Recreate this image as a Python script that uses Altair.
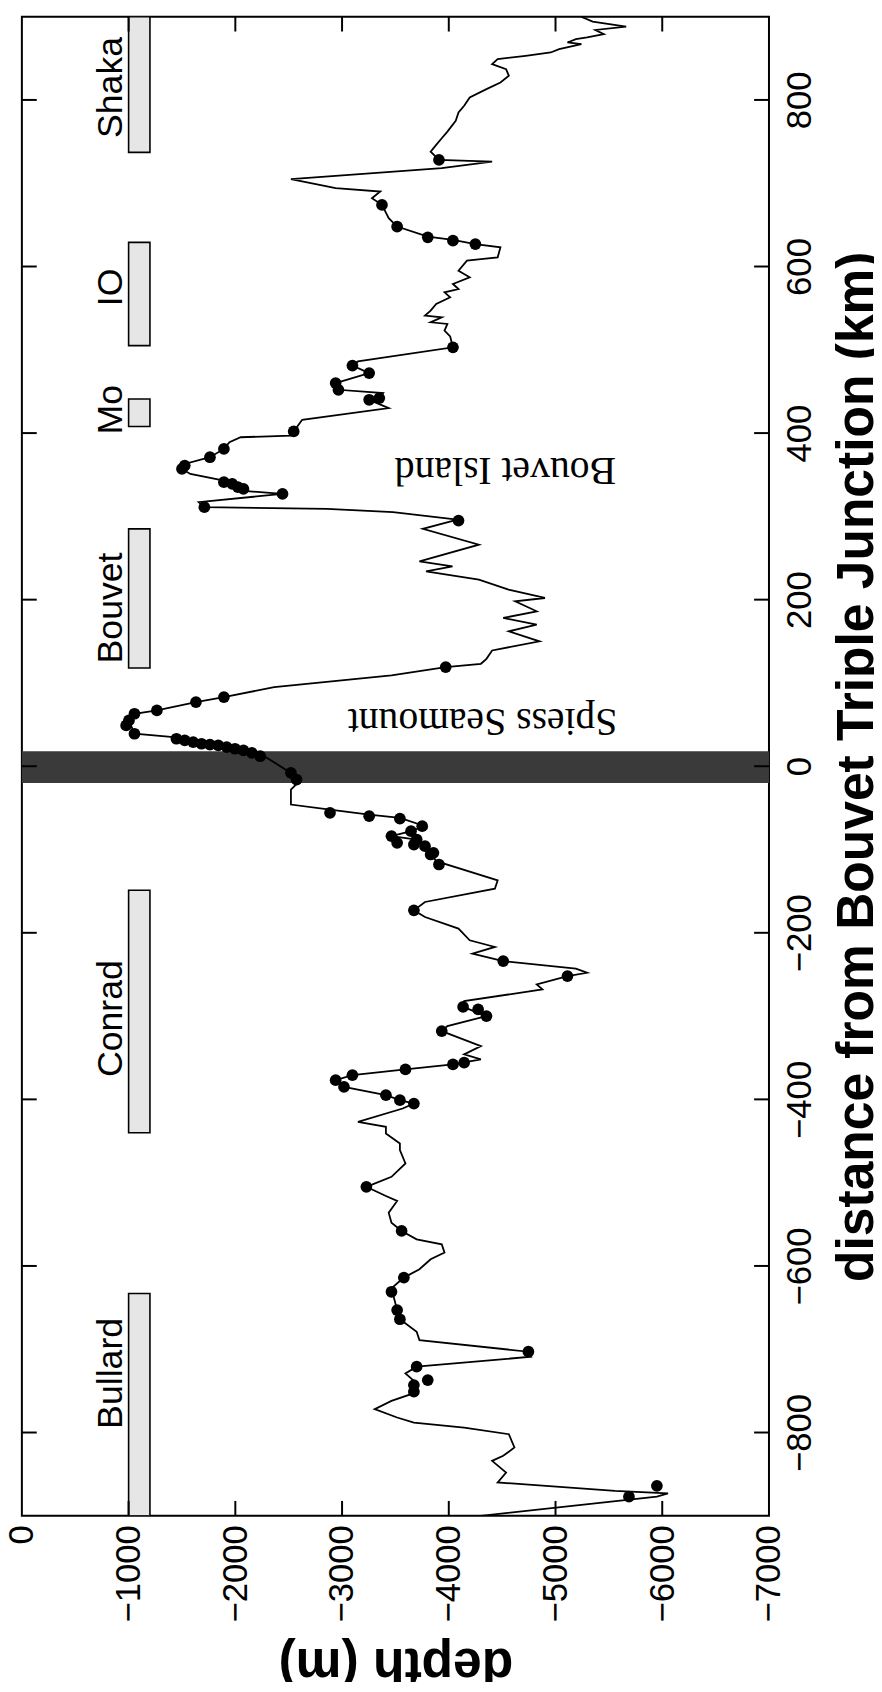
import altair as alt
import pandas as pd

# ---------------- data ----------------
# bathymetric profile, in drawing order (distance km, depth m)
line_dist = [900, 894, 888, 884, 879, 875, 873, 869, 867, 861, 857, 853, 849, 843, 837, 829, 821, 813,
             803, 793, 785, 775, 762, 754, 746, 738, 728, 726, 718, 705, 694, 690, 682, 674, 658, 648,
             636, 632, 627, 623, 611, 609, 607, 595, 587, 579, 573, 569, 563, 555, 547, 541, 539, 533,
             531, 523, 516, 503, 486, 481, 472, 460, 452, 448, 442, 440, 430, 416, 402, 397, 395, 389,
             381, 371, 363, 357, 351, 343, 339, 335, 331, 327, 317, 311, 309, 305, 296, 285, 266, 246,
             240, 234, 224, 212, 202, 198, 186, 178, 170, 162, 150, 139, 129, 123, 119, 109, 95, 83,
             77, 67, 63, 55, 47, 39, 35, 25, 13, -8, -18, -28, -46, -52, -58, -62, -72, -78, -84, -88,
             -96, -104, -114, -137, -147, -163, -173, -181, -195, -209, -217, -225, -234, -243, -248,
             -252, -262, -268, -282, -289, -300, -312, -318, -336, -346, -352, -358, -364, -371, -377,
             -385, -395, -401, -405, -411, -427, -433, -441, -453, -461, -477, -493, -505, -516, -522,
             -536, -548, -558, -568, -574, -584, -592, -604, -614, -627, -653, -664, -679, -689, -703,
             -709, -721, -729, -738, -749, -754, -762, -772, -782, -788, -794, -802, -818, -828, -834,
             -848, -860, -870, -873, -877, -900]
line_depth = [-5240, -5348, -5662, -5374, -5453, -5296, -5191, -5112, -5243, -5034, -4955, -4720, -4458,
              -4406, -4537, -4563, -4484, -4353, -4196, -4144, -4091, -4065, -3987, -3934, -3882, -3830,
              -3908, -4406, -3934, -2521, -2940, -3358, -3280, -3374, -3437, -3516, -3803, -4039, -4249,
              -4484, -4458, -4301, -4170, -4091, -4196, -4039, -4091, -3960, -4013, -3882, -3830, -3777,
              -3934, -3830, -3987, -3960, -4013, -4039, -3149, -3097, -3254, -2940, -2966, -3385, -3349,
              -3254, -3437, -2626, -2547, -2521, -2050, -1945, -1893, -1762, -1526, -1500, -1579, -1893,
              -1945, -2024, -2050, -2442, -1657, -1710, -2860, -3478, -4081, -3757, -4282, -3725, -4035,
              -3787, -4282, -4560, -4901, -4622, -4824, -4510, -4824, -4563, -4850, -4406, -4353, -4301,
              -3971, -3463, -2364, -1893, -1631, -1265, -1055, -1003, -1029, -1055, -1422, -1800, -2259,
              -2521, -2600, -2521, -2521, -2887, -3254, -3542, -3777, -3646, -3463, -3699, -3777, -3830,
              -3882, -4458, -4432, -3777, -3673, -3777, -4091, -4196, -4432, -4222, -4510, -5191, -5296,
              -5112, -4824, -4877, -4144, -4134, -4353, -3987, -3934, -4301, -4144, -4301, -4039, -3594,
              -3097, -2940, -3018, -3411, -3542, -3673, -3568, -3149, -3411, -3411, -3542, -3542, -3594,
              -3463, -3228, -3411, -3516, -3437, -3463, -3558, -3699, -3934, -3960, -3830, -3725, -3579,
              -3463, -3516, -3542, -3699, -3725, -4746, -4772, -3699, -3594, -3673, -3673, -3646, -3463,
              -3306, -3516, -3673, -4144, -4563, -4615, -4510, -4406, -4537, -4458, -5557, -6054, -5950,
              -4301]

# sample locations (dots)
dot_dist = [728, 674, 648, 635, 631, 627, 503, 481, 472, 460, 452, 440, 442, 402, 381, 371, 357, 361,
            341, 339, 335, 333, 327, 311, 295, 119, 83, 77, 67, 63, 55, 49, 39, 33, 31, 29, 27, 26, 25,
            23, 21, 19, 16, 12, -8, -16, -56, -60, -63, -72, -78, -84, -88, -96, -104, -92, -94, -106,
            -118, -173, -234, -252, -289, -292, -300, -318, -358, -356, -364, -371, -377, -385, -395,
            -401, -405, -505, -558, -614, -631, -653, -664, -703, -721, -743, -737, -751, -864, -877]
dot_depth = [-3908, -3374, -3516, -3803, -4039, -4249, -4039, -3097, -3254, -2940, -2966, -3254, -3349,
             -2547, -1893, -1762, -1500, -1526, -1893, -1971, -2024, -2076, -2442, -1710, -4091, -3971,
             -1893, -1631, -1265, -1055, -1003, -977, -1055, -1448, -1526, -1605, -1683, -1762, -1840,
             -1919, -1997, -2076, -2155, -2233, -2521, -2574, -2887, -3254, -3542, -3751, -3646, -3463,
             -3699, -3777, -3856, -3516, -3673, -3830, -3908, -3673, -4510, -5112, -4134, -4275, -4353,
             -3934, -4039, -4144, -3594, -3097, -2940, -3018, -3411, -3542, -3673, -3228, -3558, -3579,
             -3463, -3516, -3542, -4746, -3699, -3673, -3803, -3673, -5950, -5688]

# named ridge segments (boxes)
seg_names = ["Shaka", "IO", "Mo", "Bouvet", "Conrad", "Bullard"]
seg_start = [737, 505, 408, 118, -440, -900]
seg_end = [900, 629, 441, 285, -149, -633]
seg_label_at = [815, 575, 428, 190, -303, -729]
seg_depth_a = [-1000] * 6
seg_depth_b = [-1200] * 6

# shaded band around the triple junction
band_from = [-20]
band_to = [18]

# in-plot annotations
note_text = ["Spiess Seamount", "Bouvet Island"]
note_dist = [54, 356]
note_depth = [-4316, -4530]

depth_ticks = [0, -1000, -2000, -3000, -4000, -5000, -6000, -7000]
dist_ticks = [-800, -600, -400, -200, 0, 200, 400, 600, 800]

# ---------------- chart ----------------
W, H = 754, 1513
SANS = "Liberation Sans"
SERIF = "Liberation Serif"

xs = alt.Scale(domain=[0, -7000], nice=False, zero=False)
ys = alt.Scale(domain=[-900, 900], nice=False, zero=False)

line_df = pd.DataFrame({"i": range(len(line_dist)), "dist": line_dist, "depth": line_depth})
dot_df = pd.DataFrame({"dist": dot_dist, "depth": dot_depth})
seg_df = pd.DataFrame({"name": seg_names, "s": seg_start, "e": seg_end, "lab": seg_label_at,
                       "a": seg_depth_a, "b": seg_depth_b})
band_df = pd.DataFrame({"f": band_from, "t": band_to})
note_df = pd.DataFrame({"text": note_text, "dist": note_dist, "depth": note_depth})

x_axis = alt.Axis(values=depth_ticks, format="d", labelAngle=270, labelAlign="right",
                  labelBaseline="middle", labelPadding=9, labelFontSize=35, labelFont=SANS,
                  labelColor="black", ticks=False, domain=False, grid=False, labelFlush=False,
                  labelOverlap=False, title="depth (m)", titleFont=SANS, titleFontSize=52,
                  titleFontWeight="bold", titleColor="black", titleAngle=180, titleAlign="center",
                  titleBaseline="alphabetic", titleX=W / 2, titleY=134)
y_axis = alt.Axis(orient="right", values=dist_ticks, format="d", labelAngle=270, labelAlign="center",
                  labelBaseline="top", labelPadding=14, labelFontSize=35, labelFont=SANS,
                  labelColor="black", ticks=False, domain=False, grid=False, labelFlush=False,
                  labelOverlap=False, title="distance from Bouvet Triple Junction (km)",
                  titleFont=SANS, titleFontSize=52, titleFontWeight="bold", titleColor="black",
                  titleAngle=270, titleAlign="center", titleBaseline="alphabetic",
                  titleX=104, titleY=H / 2)


def X(field):
    return alt.X(field, scale=xs, axis=x_axis)


def Y(field):
    return alt.Y(field, scale=ys, axis=y_axis)


band = alt.Chart(band_df).mark_rect(color="#3a3a3a").encode(
    y=Y("f:Q"), y2="t:Q", x=alt.value(0), x2=alt.value(W))

boxes = alt.Chart(seg_df).mark_rect(fill="#e6e6e6", stroke="black", strokeWidth=1.6, clip=True).encode(
    y=Y("s:Q"), y2="e:Q", x=X("a:Q"), x2="b:Q")

box_labels = alt.Chart(seg_df).mark_text(angle=270, align="center", baseline="alphabetic",
                                         font=SANS, fontSize=36, color="black").encode(
    y=Y("lab:Q"), x=alt.value(101), text="name:N")

profile = alt.Chart(line_df).mark_line(color="black", strokeWidth=1.8, clip=True).encode(
    x=X("depth:Q"), y=Y("dist:Q"), order="i:Q")

dots = alt.Chart(dot_df).mark_point(filled=True, color="black", opacity=1, size=140).encode(
    x=X("depth:Q"), y=Y("dist:Q"))

notes = alt.Chart(note_df).mark_text(angle=180, align="center", baseline="middle", font=SERIF,
                                     fontSize=40, color="black").encode(
    x=X("depth:Q"), y=Y("dist:Q"), text="text:N")

dist_df = pd.DataFrame({"dist": dist_ticks})
depth_df = pd.DataFrame({"depth": depth_ticks[1:-1]})
tick_style = dict(color="black", strokeWidth=2)
t_left = alt.Chart(dist_df).mark_rule(**tick_style).encode(
    y=Y("dist:Q"), x=alt.value(0), x2=alt.value(15))
t_right = alt.Chart(dist_df).mark_rule(**tick_style).encode(
    y=Y("dist:Q"), x=alt.value(W - 15), x2=alt.value(W))
t_top = alt.Chart(depth_df).mark_rule(**tick_style).encode(
    x=X("depth:Q"), y=alt.value(0), y2=alt.value(15))
t_bottom = alt.Chart(depth_df).mark_rule(**tick_style).encode(
    x=X("depth:Q"), y=alt.value(H - 15), y2=alt.value(H))

chart = alt.layer(band, boxes, box_labels, profile, dots, notes, t_left, t_right, t_top, t_bottom).properties(
    width=W, height=H,
    padding={"left": 14, "top": 1, "right": 106, "bottom": 160},
    autosize=alt.AutoSizeParams(type="none"),
    background="white",
).configure_view(stroke="black", strokeWidth=2)

chart.save("out.html", embed_options={"renderer": "svg", "actions": False})
